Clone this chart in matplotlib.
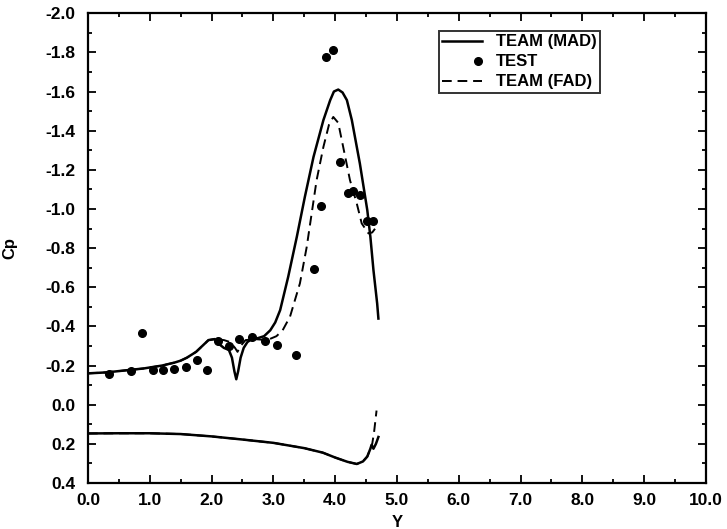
import matplotlib
matplotlib.use("Agg")
import matplotlib.pyplot as plt
from matplotlib.legend_handler import HandlerLine2D
from matplotlib.ticker import MultipleLocator, FormatStrFormatter

plt.rcParams['font.family'] = ['Liberation Sans', 'DejaVu Sans']
plt.rcParams['font.weight'] = 'bold'

# upper surface, TEAM (MAD)
mad_up_y = [0.0, 0.3, 0.6, 0.9, 1.2, 1.4, 1.5, 1.6, 1.75, 1.85, 1.95, 2.05,
            2.12, 2.2, 2.28, 2.33, 2.37, 2.40, 2.43, 2.47, 2.52, 2.58, 2.65,
            2.75, 2.85, 2.95, 3.03, 3.11, 3.24, 3.38, 3.51, 3.65, 3.81, 3.92,
            3.98, 4.05, 4.12, 4.19, 4.27, 4.40, 4.52, 4.57, 4.62, 4.68, 4.70]
mad_up_cp = [-0.16, -0.165, -0.175, -0.185, -0.20, -0.215, -0.225, -0.24,
             -0.27, -0.30, -0.33, -0.335, -0.31, -0.29, -0.28, -0.24, -0.17,
             -0.13, -0.17, -0.24, -0.29, -0.32, -0.335, -0.34, -0.35, -0.38,
             -0.42, -0.483, -0.653, -0.858, -1.062, -1.266, -1.454, -1.556,
             -1.60, -1.61, -1.595, -1.556, -1.454, -1.232, -0.994, -0.858,
             -0.687, -0.517, -0.44]

# upper surface, TEAM (FAD)
fad_up_y = [0.0, 0.3, 0.6, 0.9, 1.2, 1.4, 1.5, 1.6, 1.75, 1.85, 1.95, 2.05,
            2.2, 2.3, 2.38, 2.42, 2.47, 2.55, 2.7, 2.9, 3.05, 3.15, 3.27,
            3.43, 3.54, 3.62, 3.70, 3.81, 3.90, 3.97, 4.05, 4.13, 4.24, 4.35,
            4.43, 4.54, 4.60, 4.67]
fad_up_cp = [-0.16, -0.165, -0.175, -0.185, -0.20, -0.215, -0.225, -0.24,
             -0.27, -0.30, -0.33, -0.335, -0.33, -0.32, -0.29, -0.27, -0.30,
             -0.33, -0.335, -0.33, -0.35, -0.38, -0.45, -0.62, -0.806,
             -0.977, -1.147, -1.317, -1.43, -1.47, -1.44, -1.317, -1.147,
             -1.028, -0.926, -0.875, -0.88, -0.909]

# lower surface
mad_lo_y = [0.0, 0.5, 1.0, 1.5, 2.0, 2.5, 3.0, 3.5, 3.8, 4.0, 4.2, 4.35,
            4.45, 4.52, 4.57, 4.59, 4.62, 4.66, 4.70]
mad_lo_cp = [0.147, 0.146, 0.146, 0.150, 0.162, 0.178, 0.195, 0.222, 0.245,
             0.270, 0.292, 0.303, 0.29, 0.265, 0.225, 0.205, 0.225, 0.20,
             0.165]
fad_lo_y = [0.0, 0.5, 1.0, 1.5, 2.0, 2.5, 3.0, 3.5, 3.8, 4.0, 4.2, 4.35,
            4.45, 4.52, 4.57, 4.60, 4.63, 4.67]
fad_lo_cp = [0.147, 0.146, 0.146, 0.150, 0.162, 0.178, 0.195, 0.222, 0.245,
             0.270, 0.292, 0.303, 0.29, 0.265, 0.225, 0.20, 0.14, 0.03]

# TEST data
test_y = [0.34, 0.70, 0.87, 1.05, 1.22, 1.40, 1.58, 1.76, 1.93, 2.11, 2.29,
          2.45, 2.65, 2.86, 3.06, 3.37, 3.66, 3.77, 3.86, 3.97, 4.08, 4.20,
          4.29, 4.40, 4.51, 4.62]
test_cp = [-0.155, -0.171, -0.367, -0.177, -0.177, -0.182, -0.194, -0.228,
           -0.177, -0.325, -0.299, -0.335, -0.347, -0.326, -0.303, -0.253,
           -0.691, -1.014, -1.774, -1.811, -1.241, -1.084, -1.092, -1.071,
           -0.939, -0.939]


class DotAtEnd(HandlerLine2D):
    # put the single legend marker at the right end of the handle
    def create_artists(self, legend, orig_handle, xdescent, ydescent,
                       width, height, fontsize, trans):
        arts = super().create_artists(legend, orig_handle, xdescent, ydescent,
                                      width, height, fontsize, trans)
        for a in arts:
            n = len(a.get_xdata())
            a.set_xdata([width - xdescent - 3] * n)
        return arts


fig = plt.figure(figsize=(7.27, 5.29), dpi=100)
ax = fig.add_axes([0.121, 0.087, 0.850, 0.888])

dash = (0, (5, 3))
ax.plot(fad_lo_y, fad_lo_cp, color='black', lw=1.4, linestyle=dash)
ax.plot(fad_up_y, fad_up_cp, color='black', lw=1.4, linestyle=dash,
        label='TEAM (FAD)')
ax.plot(mad_lo_y, mad_lo_cp, color='black', lw=1.8)
ax.plot(mad_up_y, mad_up_cp, color='black', lw=1.8, label='TEAM (MAD)')
test_line, = ax.plot(test_y, test_cp, 'o', color='black', ms=5.5,
                     label='TEST')

ax.set_xlim(0, 10)
ax.set_ylim(0.4, -2.0)
ax.xaxis.set_major_locator(MultipleLocator(1.0))
ax.xaxis.set_minor_locator(MultipleLocator(0.5))
ax.yaxis.set_major_locator(MultipleLocator(0.2))
ax.yaxis.set_minor_locator(MultipleLocator(0.1))
ax.xaxis.set_major_formatter(FormatStrFormatter('%.1f'))
ax.yaxis.set_major_formatter(FormatStrFormatter('%.1f'))
ax.tick_params(which='both', direction='in', top=True, right=True,
               labelsize=12.5, width=1.3)
ax.tick_params(which='major', length=6)
ax.tick_params(which='minor', length=3)
ax.tick_params(axis='x', which='major', pad=7)
ax.tick_params(axis='y', which='major', pad=9)
for lab in ax.get_xticklabels() + ax.get_yticklabels():
    lab.set_fontweight('bold')
for sp in ax.spines.values():
    sp.set_linewidth(1.6)

ax.set_xlabel('Y', fontsize=12, fontweight='bold', labelpad=5)
ax.set_ylabel('Cp', fontsize=12, fontweight='bold', labelpad=20)

h, l = ax.get_legend_handles_labels()
order = [1, 2, 0]
leg = ax.legend([h[i] for i in order], [l[i] for i in order],
                loc='upper right', bbox_to_anchor=(0.828, 0.962),
                frameon=True, fancybox=False, numpoints=1,
                prop={'weight': 'bold', 'size': 12},
                handlelength=2.4, handletextpad=0.8, borderpad=0.2,
                labelspacing=0.3, borderaxespad=0,
                handler_map={test_line: DotAtEnd()})
leg.get_frame().set_edgecolor('black')
leg.get_frame().set_linewidth(1.4)

fig.savefig('out.png', dpi=100)
